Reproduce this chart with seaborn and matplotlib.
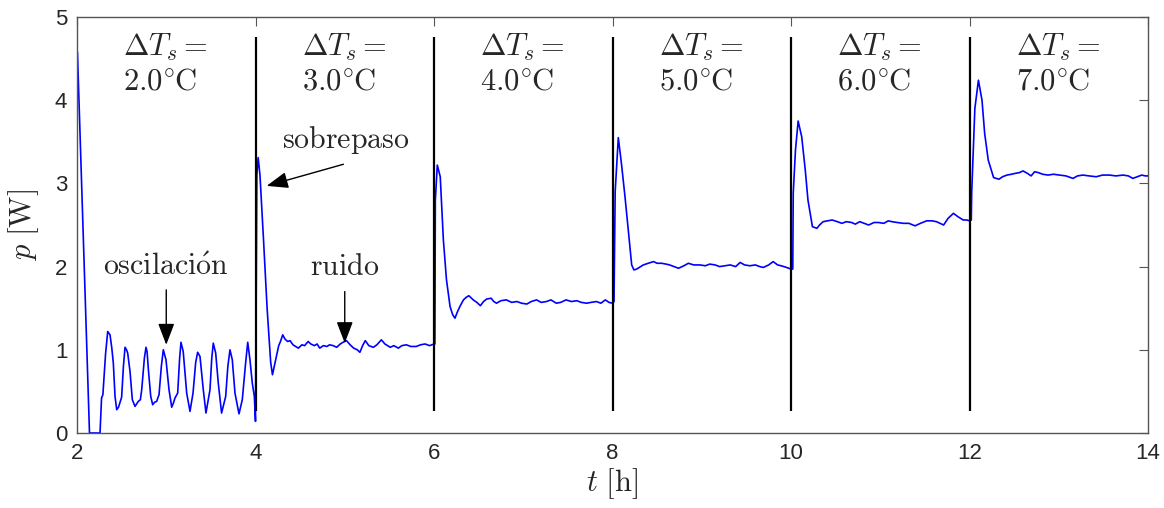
import numpy as np
import pandas as pd
import matplotlib
matplotlib.use("Agg")
import matplotlib.pyplot as plt
import seaborn as sns

# ---------------- data ----------------
seg1_t = [2.005, 2.14, 2.258, 2.275, 2.29, 2.32, 2.344, 2.37, 2.39, 2.407, 2.426, 2.445, 2.465, 2.48, 2.50,
          2.52, 2.538, 2.555, 2.568, 2.594, 2.62, 2.65, 2.687, 2.71, 2.725, 2.755, 2.773, 2.785, 2.80, 2.826,
          2.848, 2.87, 2.893, 2.905, 2.919, 2.945, 2.967, 2.997, 3.031, 3.061, 3.08, 3.098, 3.128, 3.15, 3.165,
          3.19, 3.229, 3.266, 3.30, 3.33, 3.352, 3.378, 3.415, 3.445, 3.49, 3.51, 3.527, 3.554, 3.583, 3.62,
          3.666, 3.69, 3.714, 3.74, 3.77, 3.815, 3.852, 3.89, 3.913, 3.938, 3.964, 3.987, 4.00]
seg1_p = [4.58, 0.0, 0.0, 0.42, 0.46, 0.95, 1.22, 1.18, 1.02, 0.84, 0.44, 0.28, 0.31, 0.36, 0.43,
          0.80, 1.03, 1.00, 0.96, 0.74, 0.40, 0.32, 0.38, 0.40, 0.52, 0.90, 1.03, 0.98, 0.76, 0.44,
          0.34, 0.37, 0.38, 0.42, 0.46, 0.80, 1.00, 0.88, 0.52, 0.31, 0.36, 0.42, 0.48, 0.90, 1.09,
          0.98, 0.48, 0.26, 0.48, 0.85, 0.97, 0.92, 0.52, 0.24, 0.52, 0.90, 1.08, 0.96, 0.60, 0.24,
          0.44, 0.80, 1.00, 0.88, 0.48, 0.23, 0.40, 0.85, 1.09, 0.88, 0.60, 0.44, 0.14]

seg2_t = [4.015, 4.03, 4.05, 4.09, 4.13, 4.17, 4.19, 4.22, 4.26, 4.28, 4.305, 4.33, 4.36, 4.387, 4.42, 4.45,
          4.48, 4.52, 4.55, 4.59, 4.62, 4.66, 4.69, 4.72, 4.76, 4.80, 4.83, 4.87, 4.91, 4.95, 4.98, 5.02,
          5.06, 5.10, 5.14, 5.17, 5.20, 5.23, 5.27, 5.32, 5.36, 5.41, 5.45, 5.48, 5.51, 5.55, 5.60, 5.64,
          5.69, 5.74, 5.80, 5.85, 5.90, 5.95, 6.00, 6.01]
seg2_p = [3.10, 3.31, 3.10, 2.32, 1.50, 0.85, 0.70, 0.85, 1.05, 1.10, 1.18, 1.13, 1.10, 1.11, 1.06, 1.04,
          1.02, 1.06, 1.05, 1.10, 1.07, 1.05, 1.07, 1.02, 1.05, 1.04, 1.06, 1.05, 1.03, 1.07, 1.09, 1.11,
          1.06, 1.02, 1.00, 0.97, 1.05, 1.11, 1.05, 1.03, 1.06, 1.12, 1.07, 1.05, 1.03, 1.05, 1.02, 1.05,
          1.06, 1.04, 1.04, 1.06, 1.07, 1.05, 1.07, 1.07]

seg3_t = [6.015, 6.037, 6.07, 6.105, 6.14, 6.18, 6.21, 6.235, 6.26, 6.29, 6.33, 6.36, 6.39, 6.42, 6.44, 6.48,
          6.52, 6.555, 6.59, 6.64, 6.67, 6.70, 6.75, 6.81, 6.87, 6.93, 6.98, 7.04, 7.09, 7.15, 7.20, 7.26,
          7.31, 7.37, 7.42, 7.48, 7.54, 7.60, 7.65, 7.71, 7.76, 7.82, 7.87, 7.92, 7.96, 8.00, 8.017]
seg3_p = [2.80, 3.22, 3.08, 2.32, 1.84, 1.52, 1.42, 1.38, 1.45, 1.52, 1.60, 1.63, 1.65, 1.62, 1.60, 1.57,
          1.53, 1.58, 1.61, 1.62, 1.58, 1.56, 1.59, 1.60, 1.57, 1.58, 1.56, 1.55, 1.58, 1.60, 1.57, 1.58,
          1.60, 1.56, 1.57, 1.60, 1.58, 1.59, 1.57, 1.56, 1.57, 1.58, 1.56, 1.60, 1.57, 1.56, 1.58]

seg4_t = [8.03, 8.065, 8.10, 8.14, 8.18, 8.215, 8.24, 8.27, 8.30, 8.345, 8.40, 8.46, 8.50, 8.55, 8.60, 8.64,
          8.69, 8.74, 8.80, 8.85, 8.91, 8.98, 9.04, 9.09, 9.15, 9.20, 9.26, 9.32, 9.38, 9.43, 9.48, 9.54,
          9.60, 9.65, 9.69, 9.75, 9.80, 9.85, 9.89, 9.95, 10.00, 10.02]
seg4_p = [2.90, 3.55, 3.24, 2.84, 2.40, 2.02, 1.96, 1.97, 1.99, 2.02, 2.04, 2.06, 2.04, 2.04, 2.03, 2.02,
          2.00, 1.98, 2.01, 2.04, 2.02, 2.02, 2.01, 2.03, 2.02, 2.00, 2.01, 2.02, 2.00, 2.05, 2.02, 2.01,
          2.02, 2.00, 1.99, 2.02, 2.06, 2.02, 2.01, 1.99, 1.97, 1.97]

seg5_t = [10.025, 10.05, 10.08, 10.12, 10.16, 10.19, 10.24, 10.29, 10.32, 10.36, 10.41, 10.46, 10.52, 10.57,
          10.62, 10.68, 10.72, 10.77, 10.82, 10.87, 10.93, 10.98, 11.04, 11.09, 11.13, 11.19, 11.26, 11.32,
          11.39, 11.45, 11.52, 11.58, 11.63, 11.67, 11.71, 11.76, 11.82, 11.87, 11.93, 11.97, 12.00, 12.02]
seg5_p = [2.88, 3.40, 3.75, 3.56, 3.16, 2.80, 2.48, 2.46, 2.50, 2.54, 2.55, 2.56, 2.54, 2.52,
          2.54, 2.53, 2.51, 2.54, 2.52, 2.50, 2.53, 2.53, 2.52, 2.55, 2.54, 2.53, 2.52, 2.52,
          2.49, 2.52, 2.55, 2.55, 2.54, 2.52, 2.50, 2.58, 2.64, 2.60, 2.56, 2.56, 2.55, 2.56]

seg6_t = [12.025, 12.06, 12.10, 12.14, 12.17, 12.21, 12.27, 12.33, 12.37, 12.42, 12.47, 12.51, 12.56, 12.60,
          12.65, 12.69, 12.73, 12.77, 12.82, 12.88, 12.94, 13.01, 13.08, 13.16, 13.21, 13.27, 13.34, 13.42,
          13.49, 13.57, 13.64, 13.72, 13.78, 13.83, 13.88, 13.93, 13.97, 14.00]
seg6_p = [2.90, 3.90, 4.24, 4.00, 3.60, 3.28, 3.07, 3.05, 3.08, 3.10, 3.11, 3.12, 3.13, 3.15,
          3.12, 3.09, 3.14, 3.13, 3.11, 3.10, 3.11, 3.10, 3.09, 3.06, 3.09, 3.10, 3.09, 3.08,
          3.10, 3.10, 3.09, 3.10, 3.09, 3.06, 3.08, 3.10, 3.09, 3.09]

switch_times = [4, 6, 8, 10, 12]
segment_starts = [2, 4, 6, 8, 10, 12]
setpoints = [2.0, 3.0, 4.0, 5.0, 6.0, 7.0]
x_ticks = [2, 4, 6, 8, 10, 12, 14]
y_ticks = [0, 1, 2, 3, 4, 5]

# ---------------- style ----------------
sns.set_theme(style="white")
plt.rcParams["font.family"] = ["Liberation Sans", "DejaVu Sans"]
plt.rcParams["mathtext.fontset"] = "cm"

df = pd.DataFrame({
    "t": seg1_t + seg2_t + seg3_t + seg4_t + seg5_t + seg6_t,
    "p": seg1_p + seg2_p + seg3_p + seg4_p + seg5_p + seg6_p,
})

fig = plt.figure(figsize=(11.64, 5.08), dpi=100)
ax = fig.add_axes([77 / 1164, 1 - 433 / 508, (1148 - 77) / 1164, (433 - 17) / 508])

sns.lineplot(data=df, x="t", y="p", sort=False, estimator=None, color="#0000ff",
             linewidth=1.2, ax=ax, zorder=2)

ax.vlines(switch_times, 0.26, 4.76, color="black", linewidth=1.6, zorder=3)

ax.set_xlim(2, 14)
ax.set_ylim(0, 5)
ax.set_xticks(x_ticks)
ax.set_yticks(y_ticks)
ax.set_xticklabels([str(v) for v in x_ticks])
ax.set_yticklabels([str(v) for v in y_ticks])
ax.tick_params(direction="in", top=True, right=True, length=6.5, width=0.8,
               color="#555555", labelsize=16, labelcolor="#262626", pad=7)
for s in ax.spines.values():
    s.set_color("#555555")
    s.set_linewidth(1.0)
    s.set_visible(True)

ax.set_xlabel(r"$t\ [\mathrm{h}]$", fontsize=22, labelpad=2)
ax.set_ylabel(r"$p\ [\mathrm{W}]$", fontsize=22, labelpad=10)

for start, sp in zip(segment_starts, setpoints):
    ax.text(start + 0.52, 4.53, r"$\Delta T_s =$", fontsize=22, ha="left", va="baseline", zorder=4)
    ax.text(start + 0.52, 4.13, r"$%.1f^{\circ}\hspace{-0.07}\mathrm{C}$" % sp, fontsize=22, ha="left",
            va="baseline", zorder=4)

arrow = dict(arrowstyle="-|>,head_length=1.1,head_width=0.42", color="black", lw=1.0,
             shrinkA=0, shrinkB=0)
ax.text(3.0, 1.90, r"$\mathrm{oscilaci\acute{o}n}$", fontsize=21.5, ha="center", va="baseline")
ax.annotate("", xy=(3.0, 1.06), xytext=(3.0, 1.72), arrowprops=arrow)
ax.text(5.0, 1.90, r"$\mathrm{ruido}$", fontsize=21.5, ha="center", va="baseline")
ax.annotate("", xy=(5.0, 1.08), xytext=(5.0, 1.70), arrowprops=arrow)
ax.text(5.01, 3.43, r"$\mathrm{sobrepaso}$", fontsize=21.5, ha="center", va="baseline")
ax.annotate("", xy=(4.125, 2.97), xytext=(4.985, 3.23), arrowprops=arrow)

fig.savefig("out.png", dpi=100)
